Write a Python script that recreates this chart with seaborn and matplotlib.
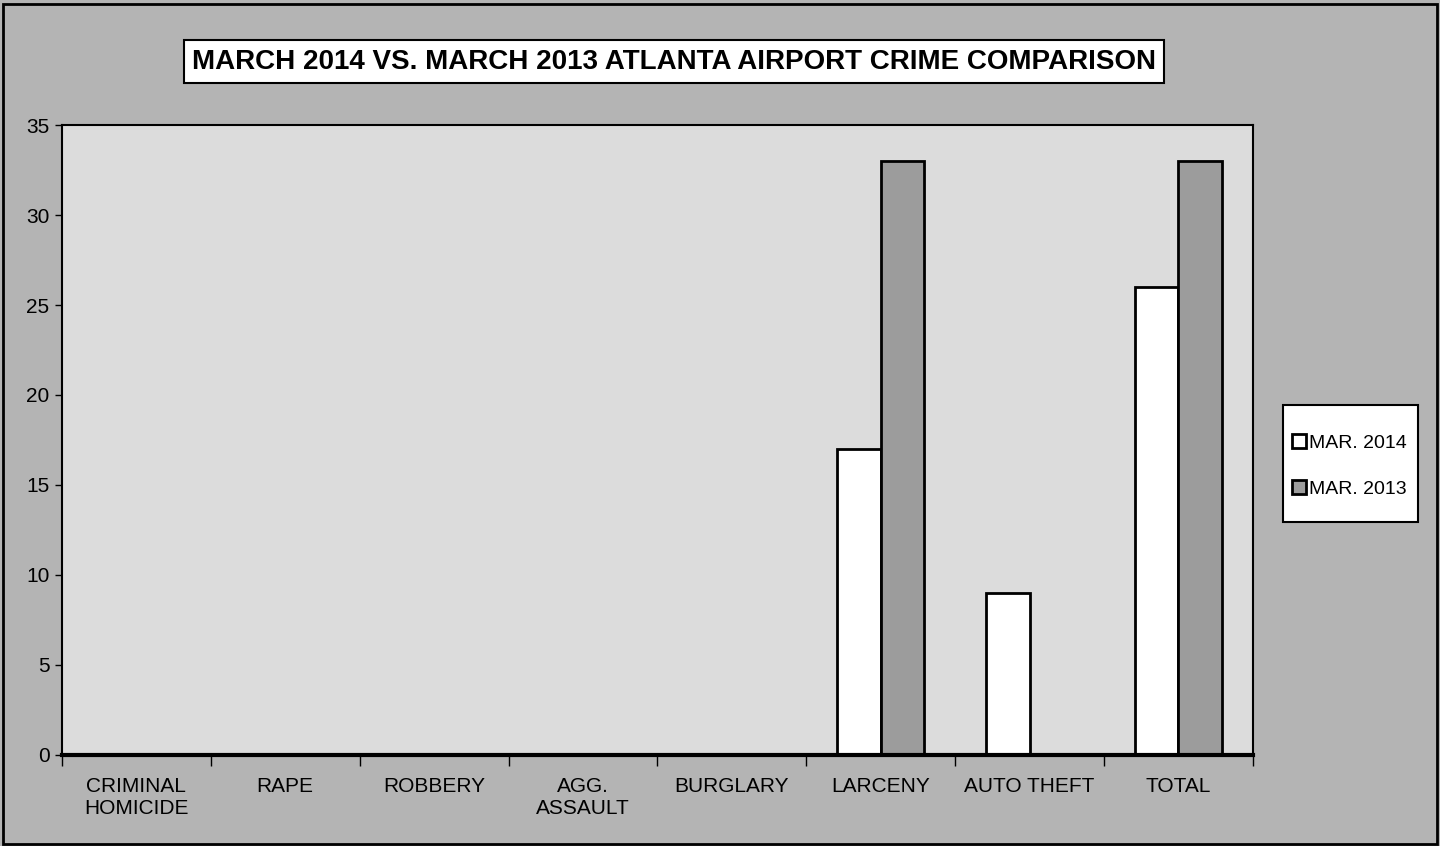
import pandas as pd
import seaborn as sns
import matplotlib.pyplot as plt
from matplotlib.patches import Rectangle

# Chart data
crimes = ['CRIMINAL\nHOMICIDE', 'RAPE', 'ROBBERY', 'AGG.\nASSAULT',
          'BURGLARY', 'LARCENY', 'AUTO THEFT', 'TOTAL']
mar_2014 = [0, 0, 0, 0, 0, 17, 9, 26]
mar_2013 = [0, 0, 0, 0, 0, 33, 0, 33]
series_names = ['MAR. 2014', 'MAR. 2013']

df = pd.DataFrame({
    'crime': crimes * 2,
    'count': mar_2014 + mar_2013,
    'period': [series_names[0]] * len(crimes) + [series_names[1]] * len(crimes),
})

sns.set_style('white')
plt.rcParams['font.family'] = ['Liberation Sans', 'DejaVu Sans']
plt.rcParams['text.color'] = 'black'
plt.rcParams['xtick.color'] = 'black'
plt.rcParams['ytick.color'] = 'black'

fig = plt.figure(figsize=(14.4, 8.46), dpi=100, facecolor='#b4b4b4')
ax = fig.add_axes([0.043, 0.108, 0.827, 0.744])
ax.set_facecolor('#dcdcdc')

sns.barplot(data=df, x='crime', y='count', hue='period', ax=ax,
            palette=['white', '#9c9c9c'], edgecolor='black', linewidth=2,
            width=0.58, legend=True)

ax.set_ylim(0, 35)
ax.set_xlim(-0.5, len(crimes) - 0.5)
ax.set_yticks(range(0, 36, 5))
ax.set_xlabel('')
ax.set_ylabel('')

# ticks at category boundaries, labels centred
ax.set_xticks([i - 0.5 for i in range(len(crimes) + 1)], minor=True)
ax.tick_params(axis='x', which='minor', bottom=True, length=8, width=1,
               color='black', direction='out')
ax.tick_params(axis='x', which='major', bottom=True, length=0, pad=16,
               labelsize=15, labelcolor='black')
ax.tick_params(axis='y', length=5, width=1, color='black', direction='out',
               left=True, pad=4, labelsize=15, labelcolor='black')

for side in ['top', 'right', 'left']:
    ax.spines[side].set_linewidth(1.5)
    ax.spines[side].set_color('black')
ax.spines['bottom'].set_linewidth(3)
ax.spines['bottom'].set_color('black')

# legend box drawn separately (behind), entries placed inside
fig.patches.append(Rectangle((1283 / 1440, 1 - 522 / 846), 135 / 1440, 117 / 846,
                             transform=fig.transFigure, facecolor='white',
                             edgecolor='black', linewidth=1.5, zorder=-1))
leg = ax.legend(loc='center left', bbox_to_anchor=(1288 / 1440, 1 - 466 / 846),
                bbox_transform=fig.transFigure, frameon=False,
                fontsize=14, handlelength=0.7, handleheight=0.7,
                handletextpad=0.2, labelspacing=1.45, borderpad=0.2,
                borderaxespad=0, title=None)
for t in leg.get_texts():
    t.set_color('black')

# title box
fig.text(0.468, 0.927, 'MARCH 2014 VS. MARCH 2013 ATLANTA AIRPORT CRIME COMPARISON',
         ha='center', va='center', fontsize=20, fontweight='bold', color='black',
         bbox=dict(boxstyle='square,pad=0.3', facecolor='white',
                   edgecolor='black', linewidth=1.5))

# outer border
fig.patches.append(Rectangle((0.002, 0.002), 0.996, 0.993, transform=fig.transFigure,
                             fill=False, edgecolor='black', linewidth=2))

fig.savefig('out.png', dpi=100, facecolor=fig.get_facecolor())
